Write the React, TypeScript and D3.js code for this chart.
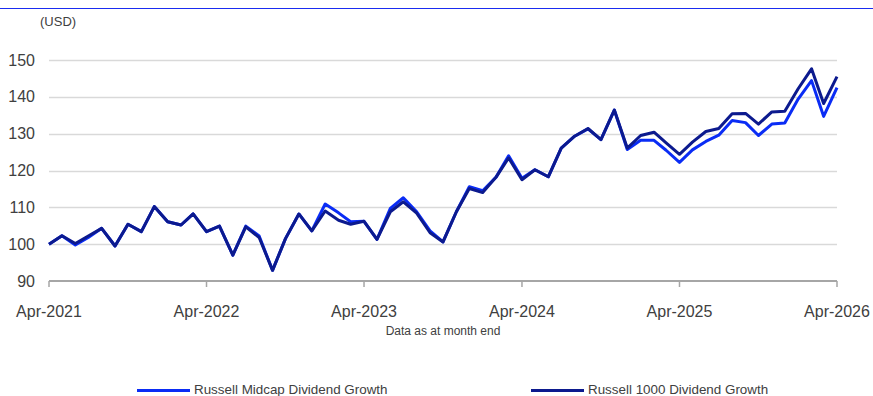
import React from "react";
import * as d3 from "d3";

const startMonth = new Date(2021, 3, 1);
const midcap: number[] = [
  100, 102.3, 99.8, 101.8, 104.3, 99.5, 105.4, 103.4, 110.2, 106.1, 105.2, 108.2,
  103.4, 104.9, 97, 104.9, 102.2, 92.9, 101.5, 108.2, 103.6, 110.9, 108.5, 106.1,
  106.2, 101.3, 109.7, 112.6, 108.8, 103.6, 100.6, 108.8, 115.6, 114.5, 118.2, 124,
  117.9, 120.2, 118.3, 126.1, 129.3, 131.3, 128.4, 136.4, 125.7, 128.2, 128.2, 125.5,
  122.2, 125.6, 127.9, 129.6, 133.6, 133, 129.5, 132.6, 132.9, 139.4, 144.4, 134.7,
  142.5,
];
const r1000: number[] = [
  100, 102.3, 100.2, 102.2, 104.3, 99.5, 105.4, 103.4, 110.2, 106.1, 105.2, 108.2,
  103.4, 104.9, 97, 104.7, 101.8, 92.9, 101.5, 108.2, 103.6, 109, 106.5, 105.4,
  106.2, 101.3, 108.8, 111.5, 108.4, 103.1, 100.6, 108.8, 115.1, 114, 118.2, 123.4,
  117.5, 120.2, 118.3, 126.1, 129.3, 131.4, 128.4, 136.4, 126.1, 129.5, 130.4, 127.5,
  124.4, 127.7, 130.6, 131.4, 135.4, 135.5, 132.6, 135.9, 136.1, 142.2, 147.6, 138.2,
  145.5,
];
const yTicks: number[] = [90, 100, 110, 120, 130, 140, 150];
const xTickLabels: string[] = ["Apr-2021", "Apr-2022", "Apr-2023", "Apr-2024", "Apr-2025", "Apr-2026"];
const seriesNames: string[] = ["Russell Midcap Dividend Growth", "Russell 1000 Dividend Growth"];
const seriesColors: string[] = ["#0a2cf5", "#0c1a8e"];

const W = 873;
const H = 396;
const FONT = "'Liberation Sans', Arial, sans-serif";

export default function App() {
  const months = midcap.map((_, i) => d3.timeMonth.offset(startMonth, i));
  const x = d3
    .scaleTime()
    .domain([startMonth, months[months.length - 1]])
    .range([49, 837]);
  const y = d3.scaleLinear().domain([90, 150]).range([281, 60]);
  const line = d3
    .line<number>()
    .x((_, i) => x(months[i]))
    .y((v) => y(v));
  const xTickDates = xTickLabels.map((_, k) => d3.timeMonth.offset(startMonth, 12 * k));

  return (
    <svg
      width={W}
      height={H}
      style={{ position: "absolute", left: 0, top: 0, background: "#fff" }}
      fontFamily={FONT}
    >
      <line x1={0} x2={W} y1={8.5} y2={8.5} stroke="#1a2cf0" strokeWidth={1} />
      <text x={40} y={26} fontSize={13} fill="#404040">(USD)</text>
      {yTicks.map((t) => (
        <g key={t}>
          {t !== 90 && (
            <line x1={49} x2={837} y1={Math.round(y(t)) + 0.5} y2={Math.round(y(t)) + 0.5} stroke="#d9d9d9" strokeWidth={1.3} />
          )}
          <text x={35} y={y(t) + 5.5} fontSize={16} textAnchor="end" fill="#404040">
            {t}
          </text>
        </g>
      ))}
      <line x1={49} x2={837} y1={y(90)} y2={y(90)} stroke="#a6a6a6" strokeWidth={2} />
      {xTickDates.map((d, k) => (
        <g key={k}>
          <line x1={x(d)} x2={x(d)} y1={y(90)} y2={y(90) + 6} stroke="#a6a6a6" strokeWidth={1.5} />
          <text x={x(d)} y={317} fontSize={16} textAnchor="middle" fill="#404040">
            {xTickLabels[k]}
          </text>
        </g>
      ))}
      <text x={443} y={335} fontSize={12} textAnchor="middle" fill="#404040">
        Data as at month end
      </text>
      <path d={line(midcap) || ""} fill="none" stroke={seriesColors[0]} strokeWidth={3} strokeLinejoin="round" />
      <path d={line(r1000) || ""} fill="none" stroke={seriesColors[1]} strokeWidth={3} strokeLinejoin="round" />
      {seriesNames.map((n, k) => {
        const lx = k === 0 ? 137 : 531;
        return (
          <g key={n}>
            <line x1={lx} x2={lx + 53} y1={390.5} y2={390.5} stroke={seriesColors[k]} strokeWidth={3} />
            <text x={lx + 57} y={394} fontSize={13.4} fill="#404040">
              {n}
            </text>
          </g>
        );
      })}
    </svg>
  );
}
